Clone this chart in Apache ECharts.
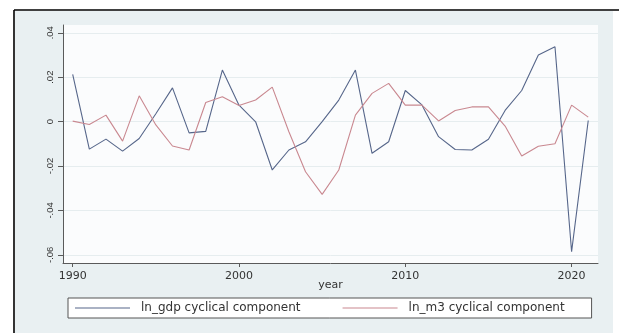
<!DOCTYPE html>
<html>
<head>
<meta charset="utf-8">
<script src="https://cdn.jsdelivr.net/npm/echarts@6/dist/echarts.min.js"></script>
<style>
  html, body { margin: 0; padding: 0; background: #fff; }
  #chart { width: 619px; height: 333px; }
</style>
</head>
<body>
<div id="chart"></div>
<script>
// Annual cyclical components (HP filter) of log GDP and log M3
const years = [1990, 1991, 1992, 1993, 1994, 1995, 1996, 1997, 1998, 1999,
               2000, 2001, 2002, 2003, 2004, 2005, 2006, 2007, 2008, 2009,
               2010, 2011, 2012, 2013, 2014, 2015, 2016, 2017, 2018, 2019,
               2020, 2021];
const gdpCycle = [0.0213, -0.0124, -0.0079, -0.0133, -0.0076, 0.0035, 0.0152, -0.0051, -0.0044, 0.0232,
                  0.0074, -0.0001, -0.0218, -0.0128, -0.0091, 0.0000, 0.0097, 0.0232, -0.0143, -0.0091,
                  0.0140, 0.0075, -0.0068, -0.0126, -0.0128, -0.0080, 0.0050, 0.0140, 0.0300, 0.0337,
                  -0.0586, 0.0005];
const m3Cycle = [0.0002, -0.0013, 0.0029, -0.0088, 0.0116, -0.0015, -0.0110, -0.0128, 0.0086, 0.0112,
                 0.0072, 0.0097, 0.0155, -0.0046, -0.0226, -0.0328, -0.0218, 0.0029, 0.0127, 0.0172,
                 0.0074, 0.0074, 0.0003, 0.0050, 0.0066, 0.0066, -0.0020, -0.0155, -0.0111, -0.0100,
                 0.0074, 0.0020];
const seriesNames = ['ln_gdp cyclical component', 'ln_m3 cyclical component'];
const xTicks = [1990, 2000, 2010, 2020];
const yTicks = [0.04, 0.02, 0, -0.02, -0.04, -0.06];
const yTickLabels = ['.04', '.02', '0', '-.02', '-.04', '-.06'];

const pairs = (vals) => years.map((y, i) => [y, vals[i]]);
const yLabel = (v) => {
  let best = 0;
  yTicks.forEach((t, i) => { if (Math.abs(t - v) < Math.abs(yTicks[best] - v)) best = i; });
  return yTickLabels[best];
};

const gdpColor = '#56668a';
const m3Color = '#c98890';

const chart = echarts.init(document.getElementById('chart'), null, { renderer: 'canvas' });
chart.setOption({
  backgroundColor: '#ffffff',
  animation: false,
  graphic: [
    { type: 'rect', z: -20, silent: true,
      shape: { x: 15, y: 11, width: 598, height: 322 },
      style: { fill: '#e9f0f2' } },
    { type: 'line', z: 100, silent: true,
      shape: { x1: 14, y1: 10, x2: 619, y2: 10 },
      style: { stroke: '#000', lineWidth: 1.6 } },
    { type: 'line', z: 100, silent: true,
      shape: { x1: 14, y1: 10, x2: 14, y2: 333 },
      style: { stroke: '#000', lineWidth: 1.6 } }
  ],
  grid: {
    left: 63, right: 21, top: 25, bottom: 70,
    show: true, backgroundColor: '#fbfcfd', borderWidth: 0
  },
  xAxis: {
    type: 'value',
    min: 1989.417, max: 2021.587,
    name: 'year', nameLocation: 'middle', nameGap: 17, nameMoveOverlap: false,
    nameTextStyle: { fontFamily: 'DejaVu Sans', fontSize: 11, color: '#333' },
    axisLine: { show: true, onZero: false, lineStyle: { color: '#5a5a5a', width: 1 } },
    axisTick: { show: true, length: 4, customValues: xTicks, lineStyle: { color: '#5a5a5a' } },
    axisLabel: { customValues: xTicks, margin: 8, fontFamily: 'DejaVu Sans', fontSize: 11, color: '#333',
                 formatter: (v) => String(Math.round(v)) },
    splitLine: { show: false }
  },
  yAxis: {
    type: 'value',
    min: -0.0637, max: 0.0435,
    axisLine: { show: true, onZero: false, lineStyle: { color: '#5a5a5a', width: 1 } },
    axisTick: { show: true, length: 5, customValues: yTicks, lineStyle: { color: '#5a5a5a' } },
    axisLabel: { customValues: yTicks, rotate: 90, margin: 8, fontFamily: 'Liberation Sans', fontSize: 9.5,
                 color: '#333', formatter: yLabel },
    splitLine: { show: true, lineStyle: { color: '#e6edef', width: 1 } }
  },
  legend: {
    show: true,
    left: 68, top: 298,
    orient: 'horizontal',
    padding: [4, 27, 4, 7],
    icon: 'rect',
    itemWidth: 55, itemHeight: 1.2, itemGap: 42,
    borderColor: '#555', borderWidth: 1,
    backgroundColor: '#ffffff',
    formatter: '{t|{name}}',
    textStyle: {
      fontFamily: 'DejaVu Sans', fontSize: 12, color: '#333',
      rich: { t: { fontFamily: 'DejaVu Sans', fontSize: 12, color: '#333', height: 14, padding: [0, 0, 0, 6] } }
    },
    data: seriesNames
  },
  series: [
    {
      name: seriesNames[0], type: 'line', data: pairs(gdpCycle),
      showSymbol: false, symbol: 'none',
      lineStyle: { color: gdpColor, width: 1.1 },
      itemStyle: { color: gdpColor }
    },
    {
      name: seriesNames[1], type: 'line', data: pairs(m3Cycle),
      showSymbol: false, symbol: 'none',
      lineStyle: { color: m3Color, width: 1.1 },
      itemStyle: { color: m3Color }
    }
  ]
});
</script>
</body>
</html>
